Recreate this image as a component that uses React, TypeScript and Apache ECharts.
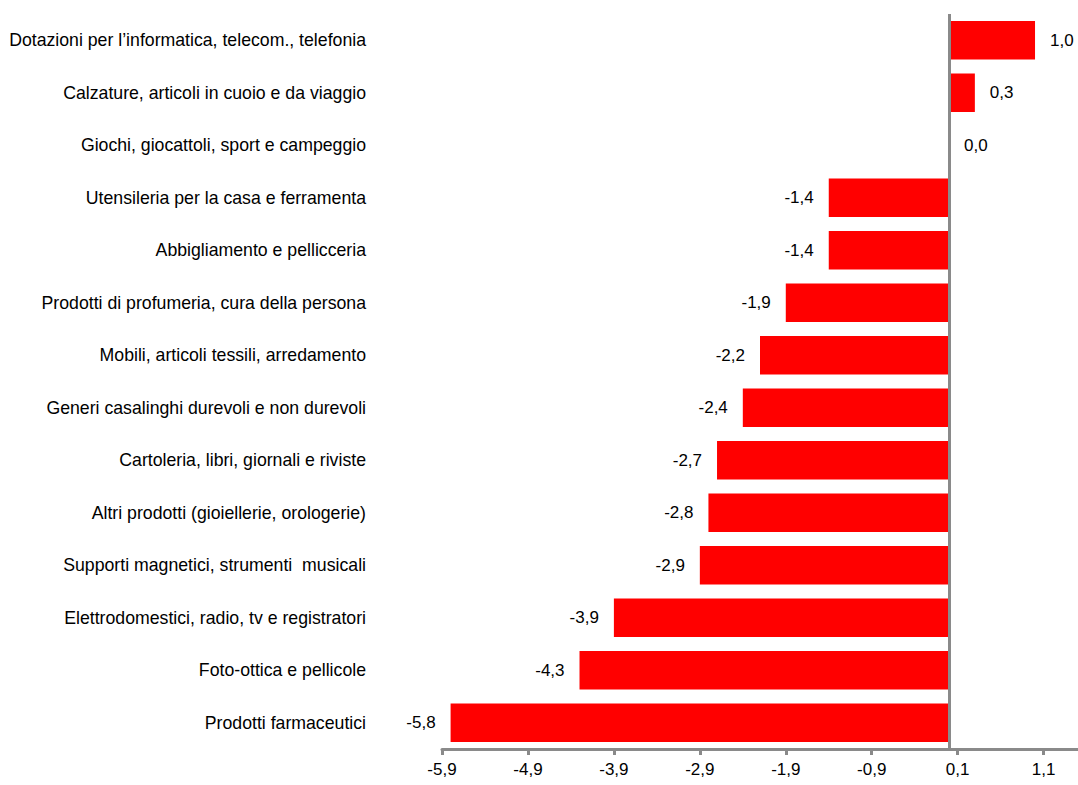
import React, { useEffect, useRef } from "react";
import * as echarts from "echarts";

const categories = [
  "Dotazioni per l’informatica, telecom., telefonia",
  "Calzature, articoli in cuoio e da viaggio",
  "Giochi, giocattoli, sport e campeggio",
  "Utensileria per la casa e ferramenta",
  "Abbigliamento e pellicceria",
  "Prodotti di profumeria, cura della persona",
  "Mobili, articoli tessili, arredamento",
  "Generi casalinghi durevoli e non durevoli",
  "Cartoleria, libri, giornali e riviste",
  "Altri prodotti (gioiellerie, orologerie)",
  "Supporti magnetici, strumenti  musicali",
  "Elettrodomestici, radio, tv e registratori",
  "Foto-ottica e pellicole",
  "Prodotti farmaceutici",
];

const values = [1.0, 0.3, 0.0, -1.4, -1.4, -1.9, -2.2, -2.4, -2.7, -2.8, -2.9, -3.9, -4.3, -5.8];

const tickValues = [-5.9, -4.9, -3.9, -2.9, -1.9, -0.9, 0.1, 1.1];

const fmt = (v: number) => v.toFixed(1).replace(".", ",");

export default function App() {
  const ref = useRef<HTMLDivElement>(null);
  useEffect(() => {
    if (!ref.current) return;
    const chart = echarts.init(ref.current, null, { renderer: "svg" });
    const font = "'Liberation Sans', Arial, sans-serif";
    const axisGray = "#8a8a8a";
    chart.setOption({
      animation: false,
      grid: { left: 442, right: 0, top: 14, bottom: 36, containLabel: false },
      xAxis: {
        type: "value",
        min: -5.9,
        max: 1.5,
        splitLine: { show: false },
        axisLine: { show: true, onZero: false, lineStyle: { color: axisGray, width: 3 } },
        axisTick: {
          show: true,
          length: 6,
          customValues: tickValues,
          lineStyle: { color: axisGray, width: 3 },
        },
        axisLabel: {
          customValues: tickValues,
          formatter: (v: number) => fmt(v),
          color: "#000",
          fontSize: 17,
          fontFamily: font,
          margin: 12,
        },
      },
      yAxis: {
        type: "category",
        data: categories,
        inverse: true,
        axisLine: { show: false, onZero: false },
        axisTick: { show: false },
        splitLine: { show: false },
        axisLabel: {
          color: "#000",
          fontSize: 17.7,
          fontFamily: font,
          margin: 76,
        },
      },
      series: [
        {
          type: "bar",
          barCategoryGap: "27%",
          itemStyle: { color: "#ff0000" },
          data: values.map((v) => ({
            value: v,
            label: { position: v < 0 ? "left" : "right" },
          })),
          label: {
            show: true,
            distance: 15,
            color: "#000",
            fontSize: 17,
            fontFamily: font,
            formatter: (p: any) => fmt(p.value),
          },
          markLine: {
            silent: true,
            symbol: ["none", "none"],
            label: { show: false },
            lineStyle: { color: axisGray, width: 3, type: "solid" },
            data: [{ xAxis: 0 }],
          },
        },
      ],
    });
    return () => chart.dispose();
  }, []);
  return (
    <div
      ref={ref}
      style={{ position: "fixed", left: 0, top: 0, width: 1078, height: 785, background: "#fff" }}
    />
  );
}
